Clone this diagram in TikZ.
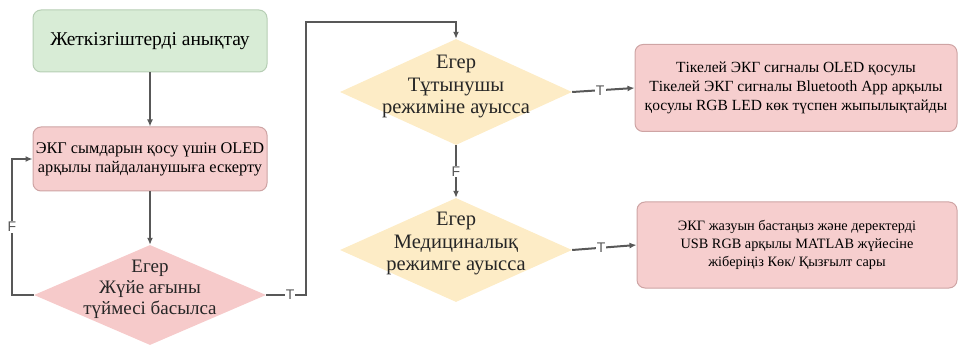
\documentclass[tikz,border=0pt]{standalone}
\usepackage{fontspec}
\setmainfont{Liberation Serif}
\newfontfamily\tfsans{Liberation Sans}
\usetikzlibrary{shapes.geometric,arrows.meta,positioning,calc}
\definecolor{boxgreen}{RGB}{216,236,214}
\definecolor{edgegreen}{RGB}{182,206,180}
\definecolor{boxpink}{RGB}{246,206,206}
\definecolor{edgepink}{RGB}{206,164,164}
\definecolor{diapink}{RGB}{246,202,202}
\definecolor{diayellow}{RGB}{253,236,198}
\definecolor{linegray}{RGB}{88,88,88}

\begin{document}
\begin{tikzpicture}[x=1pt,y=-1pt,
    procbox/.style={draw=#1,rounded corners=8pt,line width=1pt,inner sep=0pt,align=center},
    decision/.style={shape=diamond,fill=#1,inner sep=0pt,minimum width=232pt},
    dtext/.style={align=center,font=\fontsize{20.5}{22.5}\selectfont,text=black!85},
    flow/.style={draw=linegray,line width=2pt,-{Latex[length=7pt,width=6pt]}},
    tf/.style={font=\tfsans\fontsize{14}{14}\selectfont,text=linegray,fill=white,inner sep=1pt}]
  \useasboundingbox (0,0) rectangle (960,347);

  % left column
  \node[procbox=edgegreen,fill=boxgreen,minimum width=234pt,minimum height=62pt,
        font=\fontsize{19.5}{22}\selectfont] (detect) at (150,41) {Жеткізгіштерді анықтау};
  \node[procbox=edgepink,fill=boxpink,minimum width=234pt,minimum height=64pt,
        font=\fontsize{16.3}{19}\selectfont] (warn) at (150,159)
        {ЭКГ сымдарын қосу үшін OLED\\арқылы пайдаланушыға ескерту};
  \node[decision=diapink,minimum height=100pt,
        label={[dtext,font=\fontsize{19}{21}\selectfont,yshift=6pt]center:Егер\\Жүйе ағыны\\түймесі басылса}] (button) at (150,295) {};

  % middle column
  \node[decision=diayellow,minimum height=106pt,
        label={[dtext,yshift=5pt]center:Егер\\Тұтынушы\\режиміне ауысса}] (user) at (456,92) {};
  \node[decision=diayellow,minimum height=104pt,
        label={[dtext,yshift=6pt]center:Егер\\Медициналық\\режимге ауысса}] (medic) at (456,250) {};

  % right column
  \node[procbox=edgepink,fill=boxpink,minimum width=322pt,minimum height=87pt,
        font=\fontsize{15.5}{19}\selectfont] (live) at (796,88)
        {Тікелей ЭКГ сигналы OLED қосулы\\Тікелей ЭКГ сигналы Bluetooth App арқылы\\қосулы RGB LED көк түспен жыпылықтайды};
  \node[procbox=edgepink,fill=boxpink,minimum width=320pt,minimum height=86pt,
        font=\fontsize{14.3}{18}\selectfont] (record) at (797,245)
        {ЭКГ жазуын бастаңыз және деректерді\\USB RGB арқылы MATLAB жүйесіне\\жіберіңіз Көк/ Қызғылт сары};

  % connectors
  \draw[flow] (detect) -- (warn);
  \draw[flow] (warn) -- (button);
  \draw[flow] (button.west) -- ++(-22,0) |- node[tf,pos=0.25]{F} (warn.west);
  \draw[flow] (button.east) -- node[tf,pos=0.6]{T} ++(40,0) |- ($(user.north)+(0,-17)$) -- (user.north);
  \draw[flow] (user.east) -- node[tf,pos=0.45]{T} (live.west);
  \draw[flow] (user.south) -- node[tf]{F} (medic.north);
  \draw[flow] (medic.east) -- node[tf,pos=0.45]{T} (record.west);
\end{tikzpicture}
\end{document}
